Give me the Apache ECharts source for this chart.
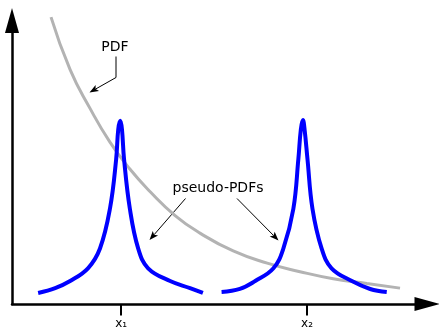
<!DOCTYPE html>
<html>
<head>
<meta charset="utf-8">
<script src="https://cdn.jsdelivr.net/npm/echarts@6/dist/echarts.min.js"></script>
<style>
html, body { margin: 0; padding: 0; background: #fff; }
#chart { width: 439px; height: 330px; }
</style>
</head>
<body>
<div id="chart"></div>
<script>
// values (x: 0..100 along the axis, y: 0..100 up the axis)
const pdfCurve = [
    [9.4, 101.2], [14.0, 82.7], [18.8, 69.0], [23.6, 57.1], [28.4, 47.6],
    [33.3, 39.6], [39.3, 31.2], [45.3, 25.0], [53.3, 18.7], [61.5, 14.4],
    [69.4, 11.4], [77.4, 8.9], [85.5, 7.2], [93.5, 5.6]
];
const peak1 = [
    [6.3, 3.9], [10.4, 5.6], [14.0, 8.1], [18.3, 12.6], [21.2, 19.6],
    [23.6, 33.6], [25.1, 51.1], [25.6, 61.6], [26.1, 64.6], [26.5, 61.6],
    [27.0, 51.1], [28.4, 33.6], [30.4, 19.6], [32.8, 12.6], [38.1, 8.1],
    [42.9, 5.6], [46.0, 3.9]
];
const peak2 = [
    [50.5, 4.2], [54.9, 5.3], [58.6, 8.1], [63.0, 12.6], [65.4, 19.6],
    [67.8, 33.6], [69.0, 51.1], [69.6, 61.6], [70.1, 64.9], [70.5, 61.6],
    [71.2, 51.1], [72.4, 33.6], [74.6, 19.6], [77.0, 12.6], [81.9, 8.1],
    [86.3, 5.3], [90.3, 4.2]
];
const tickValues = [26.3, 71.1];
const tickLabels = ['x₁', 'x₂'];

const font = 'DejaVu Sans';

// thin annotation arrow: polyline with a filled head at the last point
function arrow(pts) {
    const n = pts.length;
    const [x1, y1] = pts[n - 2];
    const [x2, y2] = pts[n - 1];
    const len = Math.hypot(x2 - x1, y2 - y1);
    const ux = (x2 - x1) / len, uy = (y2 - y1) / len;
    const hl = 9, hw = 3.5;
    const bx = x2 - ux * hl, by = y2 - uy * hl;
    const notch = [bx + ux * 2, by + uy * 2];
    return [
        {
            type: 'polyline',
            shape: { points: pts.slice(0, n - 1).concat([notch]) },
            style: { stroke: '#000', lineWidth: 1, fill: null }
        },
        {
            type: 'polygon',
            shape: { points: [[x2, y2], [bx - uy * hw, by + ux * hw], notch, [bx + uy * hw, by - ux * hw]] },
            style: { fill: '#000' }
        }
    ];
}

const chart = echarts.init(document.getElementById('chart'));

const option = {
    animation: false,
    grid: { left: 12, right: 12, top: 20.5, bottom: 24 },
    xAxis: {
        type: 'value',
        min: 0,
        max: 100,
        splitLine: { show: false },
        axisLine: {
            lineStyle: { color: '#000', width: 2.5 },
            symbol: ['none', 'triangle'],
            symbolSize: [14, 25]
        },
        axisTick: {
            show: true,
            customValues: tickValues,
            length: 11.5,
            lineStyle: { color: '#000', width: 2 }
        },
        axisLabel: {
            customValues: tickValues,
            margin: 14,
            color: '#000',
            fontFamily: font,
            fontSize: 12,
            formatter: function (v) {
                const i = tickValues.indexOf(v);
                return i >= 0 ? tickLabels[i] : '';
            }
        }
    },
    yAxis: {
        type: 'value',
        min: 0,
        max: 100,
        splitLine: { show: false },
        axisLine: {
            show: true,
            lineStyle: { color: '#000', width: 2.5 },
            symbol: ['none', 'triangle'],
            symbolSize: [14, 25]
        },
        axisTick: { show: false },
        axisLabel: { show: false }
    },
    series: [
        {
            name: 'PDF',
            type: 'line',
            data: pdfCurve,
            smooth: 0.5,
            showSymbol: false,
            clip: false,
            lineStyle: { color: '#b3b3b3', width: 3 }
        },
        {
            name: 'pseudo-PDF 1',
            type: 'line',
            data: peak1,
            smooth: 0.4,
            showSymbol: false,
            clip: false,
            lineStyle: { color: '#0000ff', width: 4 }
        },
        {
            name: 'pseudo-PDF 2',
            type: 'line',
            data: peak2,
            smooth: 0.4,
            showSymbol: false,
            clip: false,
            lineStyle: { color: '#0000ff', width: 4 }
        }
    ],
    graphic: [
        {
            type: 'text',
            x: 115, y: 40,
            style: { text: 'PDF', font: '14px ' + font, fill: '#000', align: 'center', verticalAlign: 'top' }
        },
        {
            type: 'text',
            x: 218, y: 181.5,
            style: { text: 'pseudo-PDFs', font: '14px ' + font, fill: '#000', align: 'center', verticalAlign: 'top' }
        }
    ]
        .concat(arrow([[116, 56.5], [116, 77.5], [89.5, 92.5]]))
        .concat(arrow([[185.5, 198.5], [149.5, 240]]))
        .concat(arrow([[237, 198.5], [278.5, 240.5]]))
};

chart.setOption(option);
</script>
</body>
</html>
